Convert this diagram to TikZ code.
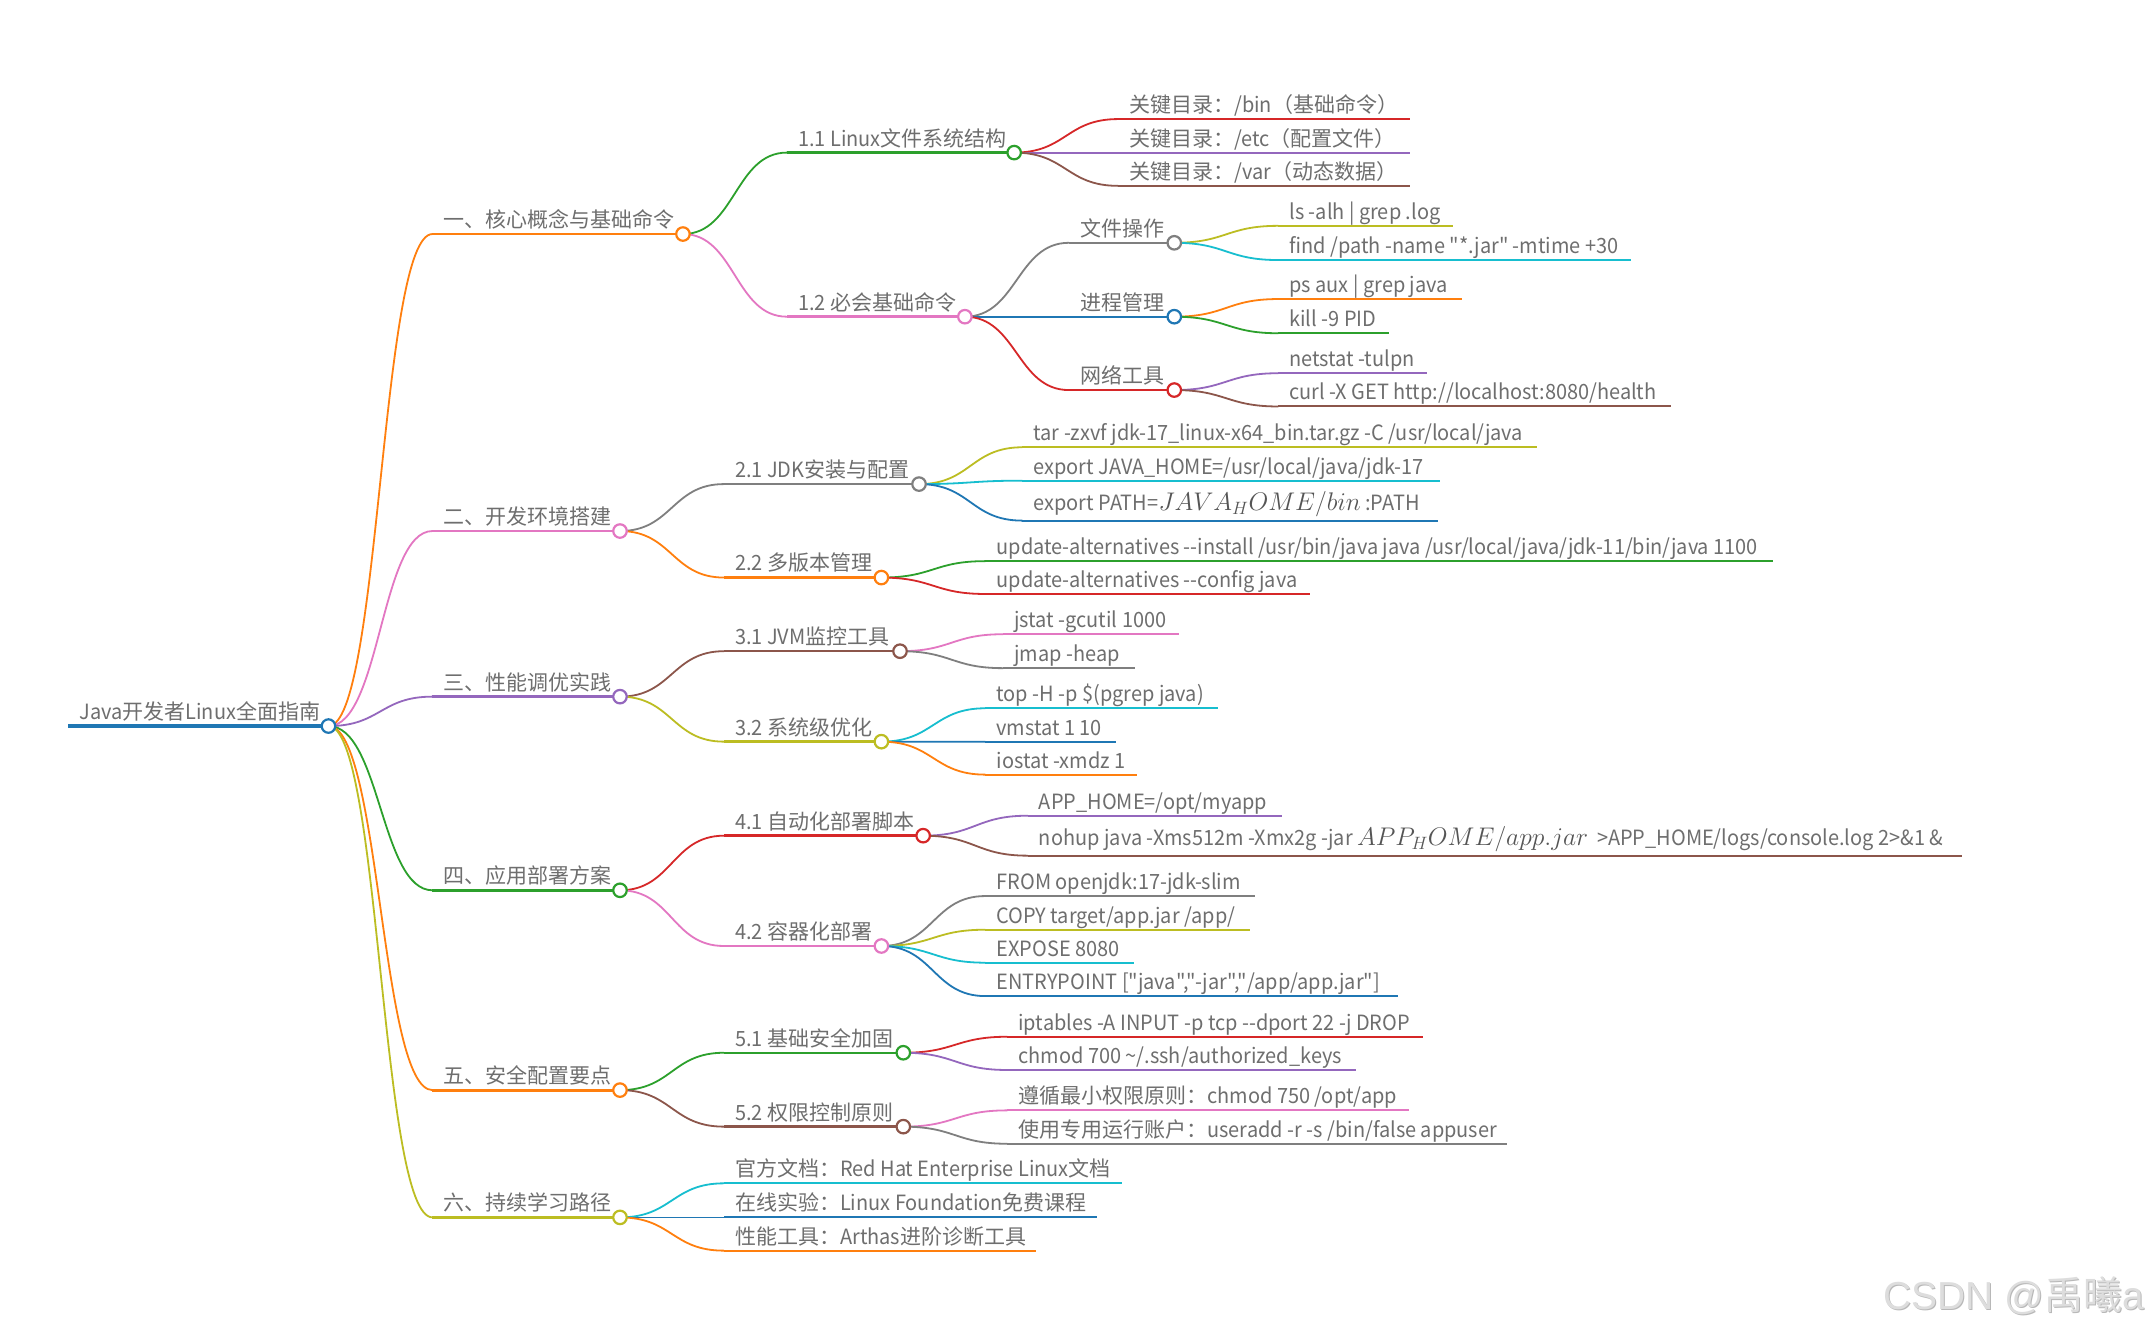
\RequirePackage{fix-cm}
\documentclass[tikz,border=0pt]{standalone}
\usepackage{fontspec}
\newfontfamily\mmfont[FakeStretch=0.95]{Noto Sans CJK SC}
\newfontfamily\mmcjkfont{Noto Sans CJK SC}
\newfontfamily\wmfont{Liberation Sans}
\usetikzlibrary{calc}
% automatic font switch: CJK characters in the unstretched face
\newXeTeXintercharclass\mmcjkclass
\count255="3000
\loop \XeTeXcharclass\count255=\mmcjkclass \ifnum\count255<"303F \advance\count255 by 1 \repeat
\count255="4E00
\loop \XeTeXcharclass\count255=\mmcjkclass \ifnum\count255<"9FFF \advance\count255 by 1 \repeat
\count255="FF00
\loop \XeTeXcharclass\count255=\mmcjkclass \ifnum\count255<"FFEF \advance\count255 by 1 \repeat
\XeTeXinterchartoks 0 \mmcjkclass = {\mmcjkfont}
\XeTeXinterchartoks 4095 \mmcjkclass = {\mmcjkfont}
\XeTeXinterchartoks \mmcjkclass 0 = {\mmfont}
\newcommand\mmon{\XeTeXinterchartokenstate=1\relax}
\newcommand\mmoff{\XeTeXinterchartokenstate=0\relax}
\newcommand\mmtxtfont{\mmon\mmfont\fontsize{21}{25}\selectfont}
\newcommand\mmwmfont{\mmoff\wmfont\fontsize{39}{45}\selectfont}
\pgfdeclarelayer{bgl}
\pgfdeclarelayer{lines}
\pgfsetlayers{bgl,lines,main}
\definecolor{mmblue}{HTML}{1F77B4}
\definecolor{mmorange}{HTML}{FF7F0E}
\definecolor{mmgreen}{HTML}{2CA02C}
\definecolor{mmred}{HTML}{D62728}
\definecolor{mmpurple}{HTML}{9467BD}
\definecolor{mmbrown}{HTML}{8C564B}
\definecolor{mmpink}{HTML}{E377C2}
\definecolor{mmgray}{HTML}{7F7F7F}
\definecolor{mmolive}{HTML}{BCBD22}
\definecolor{mmcyan}{HTML}{17BECF}
\definecolor{txtgray}{HTML}{6E6E6E}
\definecolor{mathgray}{HTML}{555555}
\definecolor{wmgray}{HTML}{DDDDDD}
\definecolor{wmshadow}{HTML}{B8B8B8}
\tikzset{
  txt/.style={anchor=base west, inner sep=0pt, text=txtgray, font=\mmtxtfont},
  dot/.style={circle, fill=white, line width=2.2pt, minimum size=13.5pt, inner sep=0pt},
  lnk/.style={line width=1.8pt},
  wmtxt/.style={anchor=base west, inner sep=0pt, font=\mmwmfont},
}
\newcommand\mth[1]{{\fontsize{25.5}{30}\selectfont\color{mathgray}$#1$}}
\newcommand\mmcurve[3]{\draw[lnk,#1] let \p1=(#2.center), \p2=(#3) in (\p1) .. controls ({(\x1+\x2)/2},\y1) and ({(\x1+\x2)/2},\y2) .. (\p2);}
% name, parent, xs, y, xc, color, underline width, text
\newcommand\mmnode[8]{%
  \coordinate (#1s) at (#3,#4);
  \node[txt] (#1t) at (#3+8,#4-4.8) {#8};
  \node[dot,draw=#6] (#1) at (#5,#4) {};
  \begin{pgfonlayer}{lines}
    \draw[line width=#7,#6] (#1s) -- (#1.center);
    \mmcurve{#6}{#2}{#1s}
  \end{pgfonlayer}}
% name, parent, xs, y, xe, color, text-baseline offset, text
\newcommand\mmleaf[8]{%
  \coordinate (#1s) at (#3,#4);
  \coordinate (#1e) at (#5,#4);
  \node[txt] (#1t) at (#3+8,#4-#7) {#8};
  \begin{pgfonlayer}{lines}
    \draw[line width=2pt,#6] (#1s) -- (#1e);
    \mmcurve{#6}{#2}{#1s}
  \end{pgfonlayer}}
\begin{document}
\begin{tikzpicture}[x=1.3686pt,y=-1.3686pt]
\begin{pgfonlayer}{bgl}
\path[use as bounding box, fill=white] (0,0) rectangle (1568,974);
\end{pgfonlayer}
% root
\coordinate (roots) at (50,530.5);
\node[txt] (roott) at (58,525.7) {Java开发者Linux全面指南};
\node[dot,draw=mmblue] (root) at (240,530.5) {};
\begin{pgfonlayer}{lines}
\draw[line width=3.2pt,mmblue] (roots) -- (root.center);
\end{pgfonlayer}
% level 1
\mmnode{a}{root}{316}{171}{499}{mmorange}{2.8pt}{一、核心概念与基础命令}
\mmnode{b}{root}{316}{388}{453}{mmpink}{2.8pt}{二、开发环境搭建}
\mmnode{c}{root}{316}{509}{453}{mmpurple}{2.8pt}{三、性能调优实践}
\mmnode{d}{root}{316}{650.5}{453}{mmgreen}{2.8pt}{四、应用部署方案}
\mmnode{e}{root}{316}{796.5}{453}{mmorange}{2.8pt}{五、安全配置要点}
\mmnode{f}{root}{316}{889.5}{453}{mmolive}{2.8pt}{六、持续学习路径}
% 1
\mmnode{aa}{a}{575}{111.5}{741}{mmgreen}{2.4pt}{1.1 Linux文件系统结构}
\mmnode{ab}{a}{575}{231.4}{705}{mmpink}{2.4pt}{1.2 必会基础命令}
\mmleaf{aaa}{aa}{817}{87}{1030}{mmred}{4.8}{关键目录：/bin（基础命令）}
\mmleaf{aab}{aa}{817}{111.5}{1030}{mmpurple}{4.8}{关键目录：/etc（配置文件）}
\mmleaf{aac}{aa}{817}{135.8}{1030}{mmbrown}{4.8}{关键目录：/var（动态数据）}
\mmnode{aba}{ab}{781}{177.4}{858}{mmgray}{2.2pt}{文件操作}
\mmnode{abb}{ab}{781}{231.4}{858}{mmblue}{2.2pt}{进程管理}
\mmnode{abc}{ab}{781}{285}{858}{mmred}{2.2pt}{网络工具}
\mmleaf{abaa}{aba}{934}{165}{1062}{mmolive}{4.8}{ls -alh | grep .log}
\mmleaf{abab}{aba}{934}{190}{1192}{mmcyan}{4.8}{find /path -name "*.jar" -mtime +30}
\mmleaf{abba}{abb}{934}{218.5}{1068}{mmorange}{4.8}{ps aux | grep java}
\mmleaf{abbb}{abb}{934}{243.5}{1015}{mmgreen}{4.8}{kill -9 PID}
\mmleaf{abca}{abc}{934}{272.7}{1043}{mmpurple}{4.8}{netstat -tulpn}
\mmleaf{abcb}{abc}{934}{297}{1221}{mmbrown}{4.8}{curl -X GET http://localhost:8080/health}
% 2
\mmnode{ba}{b}{529}{353.7}{671.5}{mmgray}{2.4pt}{2.1 JDK安装与配置}
\mmnode{bb}{b}{529}{422}{644}{mmorange}{2.4pt}{2.2 多版本管理}
\mmleaf{baa}{ba}{747}{326.8}{1123}{mmolive}{4.8}{tar -zxvf jdk-17\_linux-x64\_bin.tar.gz -C /usr/local/java}
\mmleaf{bab}{ba}{747}{351.2}{1052.5}{mmcyan}{4.8}{export JAVA\_HOME=/usr/local/java/jdk-17}
\mmleaf{bac}{ba}{747}{380.4}{1051}{mmblue}{7.5}{export PATH=\mth{JAVA_HOME/bin}\ :PATH}
\mmleaf{bba}{bb}{720}{410}{1295.5}{mmgreen}{4.8}{update-alternatives -{}-install /usr/bin/java java /usr/local/java/jdk-11/bin/java 1100}
\mmleaf{bbb}{bb}{720}{434}{957}{mmred}{4.8}{update-alternatives -{}-config java}
% 3
\mmnode{ca}{c}{529}{475.8}{657.6}{mmbrown}{2.4pt}{3.1 JVM监控工具}
\mmnode{cb}{c}{529}{541.9}{644}{mmolive}{2.4pt}{3.2 系统级优化}
\mmleaf{caa}{ca}{733}{463.4}{861.5}{mmpink}{4.8}{jstat -gcutil 1000}
\mmleaf{cab}{ca}{733}{488.2}{829.5}{mmgray}{4.8}{jmap -heap}
\mmleaf{cba}{cb}{720}{517.5}{890}{mmcyan}{4.8}{top -H -p \$(pgrep java)}
\mmleaf{cbb}{cb}{720}{542}{815.5}{mmblue}{4.8}{vmstat 1 10}
\mmleaf{cbc}{cb}{720}{566}{831}{mmorange}{4.8}{iostat -xmdz 1}
% 4
\mmnode{da}{d}{529}{610.6}{674.5}{mmred}{2.4pt}{4.1 自动化部署脚本}
\mmnode{db}{d}{529}{691.2}{644}{mmpink}{2.4pt}{4.2 容器化部署}
\mmleaf{daa}{da}{751}{596}{937}{mmpurple}{4.8}{APP\_HOME=/opt/myapp}
\mmleaf{dab}{da}{751}{625.2}{1433.5}{mmbrown}{7.5}{nohup java -Xms512m -Xmx2g -jar \mth{APP_HOME/app.jar}\ \ >APP\_HOME/logs/console.log 2>\&1 \&}
\mmleaf{dba}{db}{720}{654.7}{917.3}{mmgray}{4.8}{FROM openjdk:17-jdk-slim}
\mmleaf{dbb}{db}{720}{679.3}{913}{mmolive}{4.8}{COPY target/app.jar /app/}
\mmleaf{dbc}{db}{720}{703.4}{828.3}{mmcyan}{4.8}{EXPOSE 8080}
\mmleaf{dbd}{db}{720}{727.8}{1021.5}{mmblue}{4.8}{ENTRYPOINT ["java","-jar","/app/app.jar"]}
% 5
\mmnode{ea}{e}{529}{769.2}{660}{mmgreen}{2.4pt}{5.1 基础安全加固}
\mmnode{eb}{e}{529}{823.2}{660}{mmbrown}{2.4pt}{5.2 权限控制原则}
\mmleaf{eaa}{ea}{736}{757.5}{1040}{mmred}{4.8}{iptables -A INPUT -p tcp -{}-dport 22 -j DROP}
\mmleaf{eab}{ea}{736}{781.8}{990.5}{mmpurple}{4.8}{chmod 700 \textasciitilde/.ssh/authorized\_keys}
\mmleaf{eba}{eb}{736}{811.3}{1029.5}{mmpink}{4.8}{遵循最小权限原则：chmod 750 /opt/app}
\mmleaf{ebb}{eb}{736}{835.7}{1101}{mmgray}{4.8}{使用专用运行账户：useradd -r -s /bin/false appuser}
% 6
\mmleaf{fa}{f}{529}{864.6}{820}{mmcyan}{4.8}{官方文档：Red Hat Enterprise Linux文档}
\mmleaf{fb}{f}{529}{889.5}{801.6}{mmblue}{4.8}{在线实验：Linux Foundation免费课程}
\mmleaf{fc}{f}{529}{913.8}{757}{mmorange}{4.8}{性能工具：Arthas进阶诊断工具}
% watermark
\node[wmtxt, text=wmshadow] (wms) at (1376.6,957.6) {CSDN @{\mmcjkfont 禹曦}a};
\node[wmtxt, text=wmgray] (wm) at (1376,957) {CSDN @{\mmcjkfont 禹曦}a};
\end{tikzpicture}
\end{document}
